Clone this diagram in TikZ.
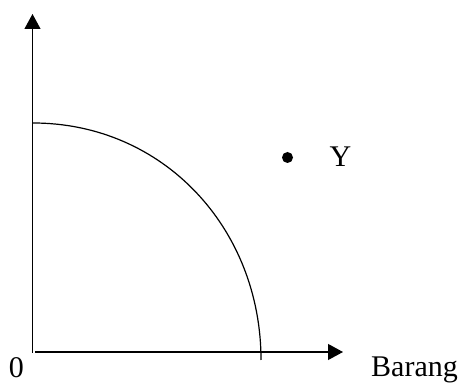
\documentclass[tikz,border=0pt]{standalone}
\usepackage{fontspec}
\setmainfont{Liberation Serif}
\usetikzlibrary{arrows.meta}
\begin{document}
\begin{tikzpicture}[x=1pt,y=1pt,
  axisline/.style={line width=1.2pt,-{Triangle[length=15pt,width=16pt]}},
  curveline/.style={line width=1.2pt},
  lbl/.style={inner sep=0pt,font=\fontsize{30}{36}\selectfont}]
\useasboundingbox (0,0) rectangle (464,383);
\coordinate (vbase) at (32.5,30);
\coordinate (vtip) at (32.5,369);
\coordinate (hbase) at (35,31);
\coordinate (htip) at (343,31);
\coordinate (arcA) at (33,260);
\coordinate (arcB) at (261,23);
\draw[axisline] (vbase) -- (vtip);
\draw[axisline] (hbase) -- (htip);
\draw[curveline] (arcA) .. controls (163,260) and (261,155) .. (arcB);
\node[lbl,anchor=base] (zero) at (16.5,5.5) {0};
\node[lbl,anchor=base west] (barang) at (371,6) {Barang};
\node[lbl,anchor=base] (ylbl) at (340.5,216) {Y};
\fill (287.5,225.5) circle (5.5) node (dot) {};
\end{tikzpicture}
\end{document}
